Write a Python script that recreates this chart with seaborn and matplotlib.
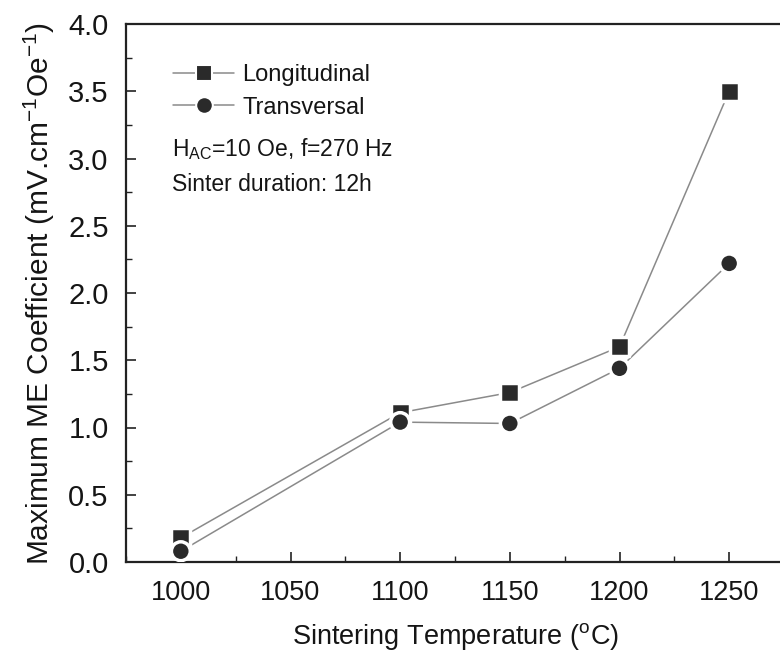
import pandas as pd
import seaborn as sns
import matplotlib.pyplot as plt
from matplotlib.lines import Line2D
from matplotlib.ticker import MultipleLocator

temperature = [1000, 1100, 1150, 1200, 1250]
longitudinal = [0.18, 1.11, 1.26, 1.60, 3.50]
transversal = [0.08, 1.04, 1.03, 1.44, 2.22]
series_names = ["Longitudinal", "Transversal"]

df = pd.DataFrame({
    "temp": temperature * 2,
    "me": longitudinal + transversal,
    "series": [series_names[0]] * len(temperature) + [series_names[1]] * len(temperature),
})

sns.set_style("white")
plt.rcParams['font.family'] = ['Liberation Sans', 'DejaVu Sans']
plt.rcParams['mathtext.default'] = 'regular'
plt.rcParams['text.color'] = '#151515'
plt.rcParams['axes.labelcolor'] = '#151515'
plt.rcParams['xtick.labelcolor'] = '#151515'
plt.rcParams['ytick.labelcolor'] = '#151515'

line_col = "#8a8a8a"
mark_col = "#2a2a2a"
markers = {"Longitudinal": "s", "Transversal": "o"}

fig = plt.figure(figsize=(7.8, 6.67), dpi=100)
ax = fig.add_axes([126 / 780, 105 / 667, 658 / 780, 538 / 667])

for name in series_names:
    sub = df[df["series"] == name]
    sns.lineplot(data=sub, x="temp", y="me", color=line_col, linewidth=1.1, ax=ax, legend=False)

sns.scatterplot(data=df, x="temp", y="me", style="series", markers=markers,
                color=mark_col, s=185, edgecolor="white", linewidth=2.5, ax=ax, legend=False, zorder=3)

ax.set_xlim(975, 1275)
ax.set_ylim(0, 4.0)
ax.xaxis.set_major_locator(MultipleLocator(50))
ax.xaxis.set_minor_locator(MultipleLocator(25))
ax.yaxis.set_major_locator(MultipleLocator(0.5))
ax.yaxis.set_minor_locator(MultipleLocator(0.25))
ax.yaxis.set_major_formatter(plt.FormatStrFormatter('%.1f'))
ax.tick_params(which="both", direction="in", color="#222222", bottom=True, left=True)
ax.tick_params(which="major", length=7, width=1.2)
ax.tick_params(which="minor", length=4, width=1.0)
ax.tick_params(axis="x", which="major", pad=13, labelsize=19.5)
ax.tick_params(axis="y", which="major", pad=12.5, labelsize=21)
for sp in ax.spines.values():
    sp.set_linewidth(1.6)
    sp.set_color("#222222")

ax.set_xlabel("Sintering Temperature ($^{o}$C)", fontsize=19.5, labelpad=11)
ax.set_ylabel("Maximum ME Coefficient (mV.cm$^{-1}$Oe$^{-1}$)", fontsize=21.5, labelpad=8)

handles = [Line2D([], [], color=line_col, linewidth=1.1, marker=markers[n], markersize=12,
                  markerfacecolor=mark_col, markeredgecolor="white", markeredgewidth=1.5)
           for n in series_names]
ax.legend(handles, series_names, loc="upper left", bbox_to_anchor=(0.057, 0.943), frameon=False,
          fontsize=17, handlelength=2.6, handletextpad=0.35, labelspacing=0.45, borderaxespad=0)

ax.text(0.07, 0.767, "H$_{AC}$=10 Oe, f=270 Hz", transform=ax.transAxes, fontsize=16.5, va="center")
ax.text(0.07, 0.702, "Sinter duration: 12h", transform=ax.transAxes, fontsize=16.5, va="center")

fig.savefig("out.png", dpi=100)
